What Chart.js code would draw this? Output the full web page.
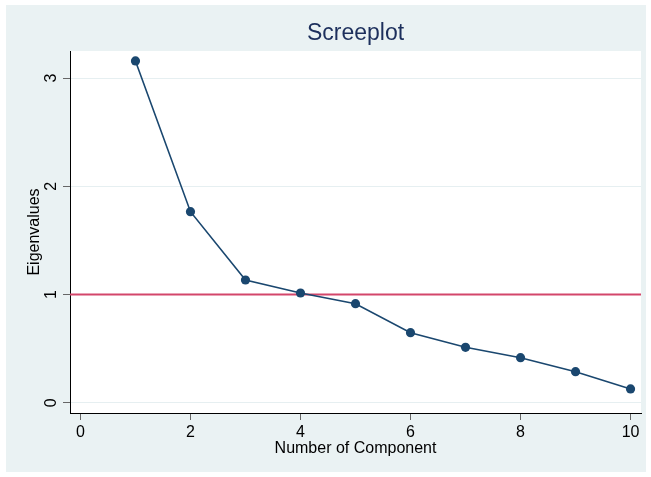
<!DOCTYPE html>
<html>
<head>
<meta charset="utf-8">
<script src="https://cdn.jsdelivr.net/npm/chart.js@4.4.1/dist/chart.umd.min.js"></script>
<style>
  html, body { margin: 0; padding: 0; background: #ffffff; }
  #wrap { width: 651px; height: 477px; }
</style>
</head>
<body>
<div id="wrap"><canvas id="chart_screeplot"></canvas></div>
<script>
// values
var components = [1, 2, 3, 4, 5, 6, 7, 8, 9, 10];
var eigenvalues = [3.158, 1.765, 1.134, 1.014, 0.915, 0.647, 0.512, 0.416, 0.287, 0.127];
var xTicks = [0, 2, 4, 6, 8, 10];
var yTicks = [0, 1, 2, 3];
var refLine = 1;
var xMin = -0.19, xMax = 10.19;
var yMin = -0.095, yMax = 3.25;

var fontFamily = '"Liberation Sans", Arial, Helvetica, sans-serif';

var chart_screeplot = new Chart(document.getElementById('chart_screeplot'), {
    type: 'line',
    data: {
        datasets: [
            {
                label: 'Eigenvalues',
                data: components.map(function (c, i) { return { x: c, y: eigenvalues[i] }; }),
                borderColor: '#1a476f',
                backgroundColor: '#1a476f',
                borderWidth: 1.6,
                pointRadius: 4.6,
                pointBorderWidth: 0,
                tension: 0,
                order: 1
            },
            {
                label: 'Reference',
                data: [{ x: xMin, y: refLine }, { x: xMax, y: refLine }],
                borderColor: '#d3466b',
                borderWidth: 2,
                pointRadius: 0,
                order: 2
            }
        ]
    },
    options: {
        animation: false,
        responsive: true,
        maintainAspectRatio: false,
        layout: { padding: { left: 0, right: 10, top: 0, bottom: 0 } },
        plugins: {
            legend: { display: false },
            tooltip: { enabled: false },
            title: {
                display: true,
                fullSize: false,
                text: 'Screeplot',
                color: '#1c2f5c',
                font: { family: fontFamily, size: 23, weight: 'normal', lineHeight: 1.2 },
                padding: { top: 20, bottom: 3.4 }
            }
        },
        scales: {
            x: {
                type: 'linear',
                min: xMin,
                max: xMax,
                afterBuildTicks: function (axis) {
                    axis.ticks = xTicks.map(function (v) { return { value: v }; });
                },
                afterFit: function (axis) { axis.height = 64; },
                grid: {
                    display: true,
                    drawOnChartArea: false,
                    tickLength: 7,
                    tickColor: '#666666'
                },
                border: { display: true, color: '#000000', width: 1 },
                ticks: {
                    color: '#000000',
                    padding: 3,
                    maxRotation: 0,
                    autoSkip: false,
                    font: { family: fontFamily, size: 16 }
                },
                title: {
                    display: true,
                    text: 'Number of Component',
                    color: '#000000',
                    font: { family: fontFamily, size: 16 },
                    padding: { top: 0, bottom: 18.5 }
                }
            },
            y: {
                type: 'linear',
                min: yMin,
                max: yMax,
                afterBuildTicks: function (axis) {
                    axis.ticks = yTicks.map(function (v) { return { value: v }; });
                },
                afterFit: function (axis) { axis.width = 70; },
                grid: {
                    display: true,
                    color: '#e6eff1',
                    lineWidth: 1,
                    tickLength: 7,
                    tickColor: '#666666'
                },
                border: { display: true, color: '#000000', width: 1 },
                ticks: {
                    color: '#000000',
                    padding: 7,
                    minRotation: 90,
                    maxRotation: 90,
                    crossAlign: 'center',
                    autoSkip: false,
                    font: { family: fontFamily, size: 16 }
                },
                title: {
                    display: true,
                    text: 'Eigenvalues',
                    color: '#000000',
                    font: { family: fontFamily, size: 16 },
                    padding: { top: 25.4, bottom: 0 }
                }
            }
        }
    },
    plugins: [{
        id: 'stataBackground',
        beforeDraw: function (chart) {
            var ctx = chart.ctx;
            var area = chart.chartArea;
            ctx.save();
            ctx.fillStyle = '#ffffff';
            ctx.fillRect(0, 0, chart.width, chart.height);
            ctx.fillStyle = '#eaf2f3';
            ctx.fillRect(6, 5, chart.width - 11, chart.height - 10);
            ctx.fillStyle = '#ffffff';
            ctx.fillRect(area.left, area.top, area.right - area.left, area.bottom - area.top);
            ctx.restore();
        }
    }]
});
</script>
</body>
</html>
